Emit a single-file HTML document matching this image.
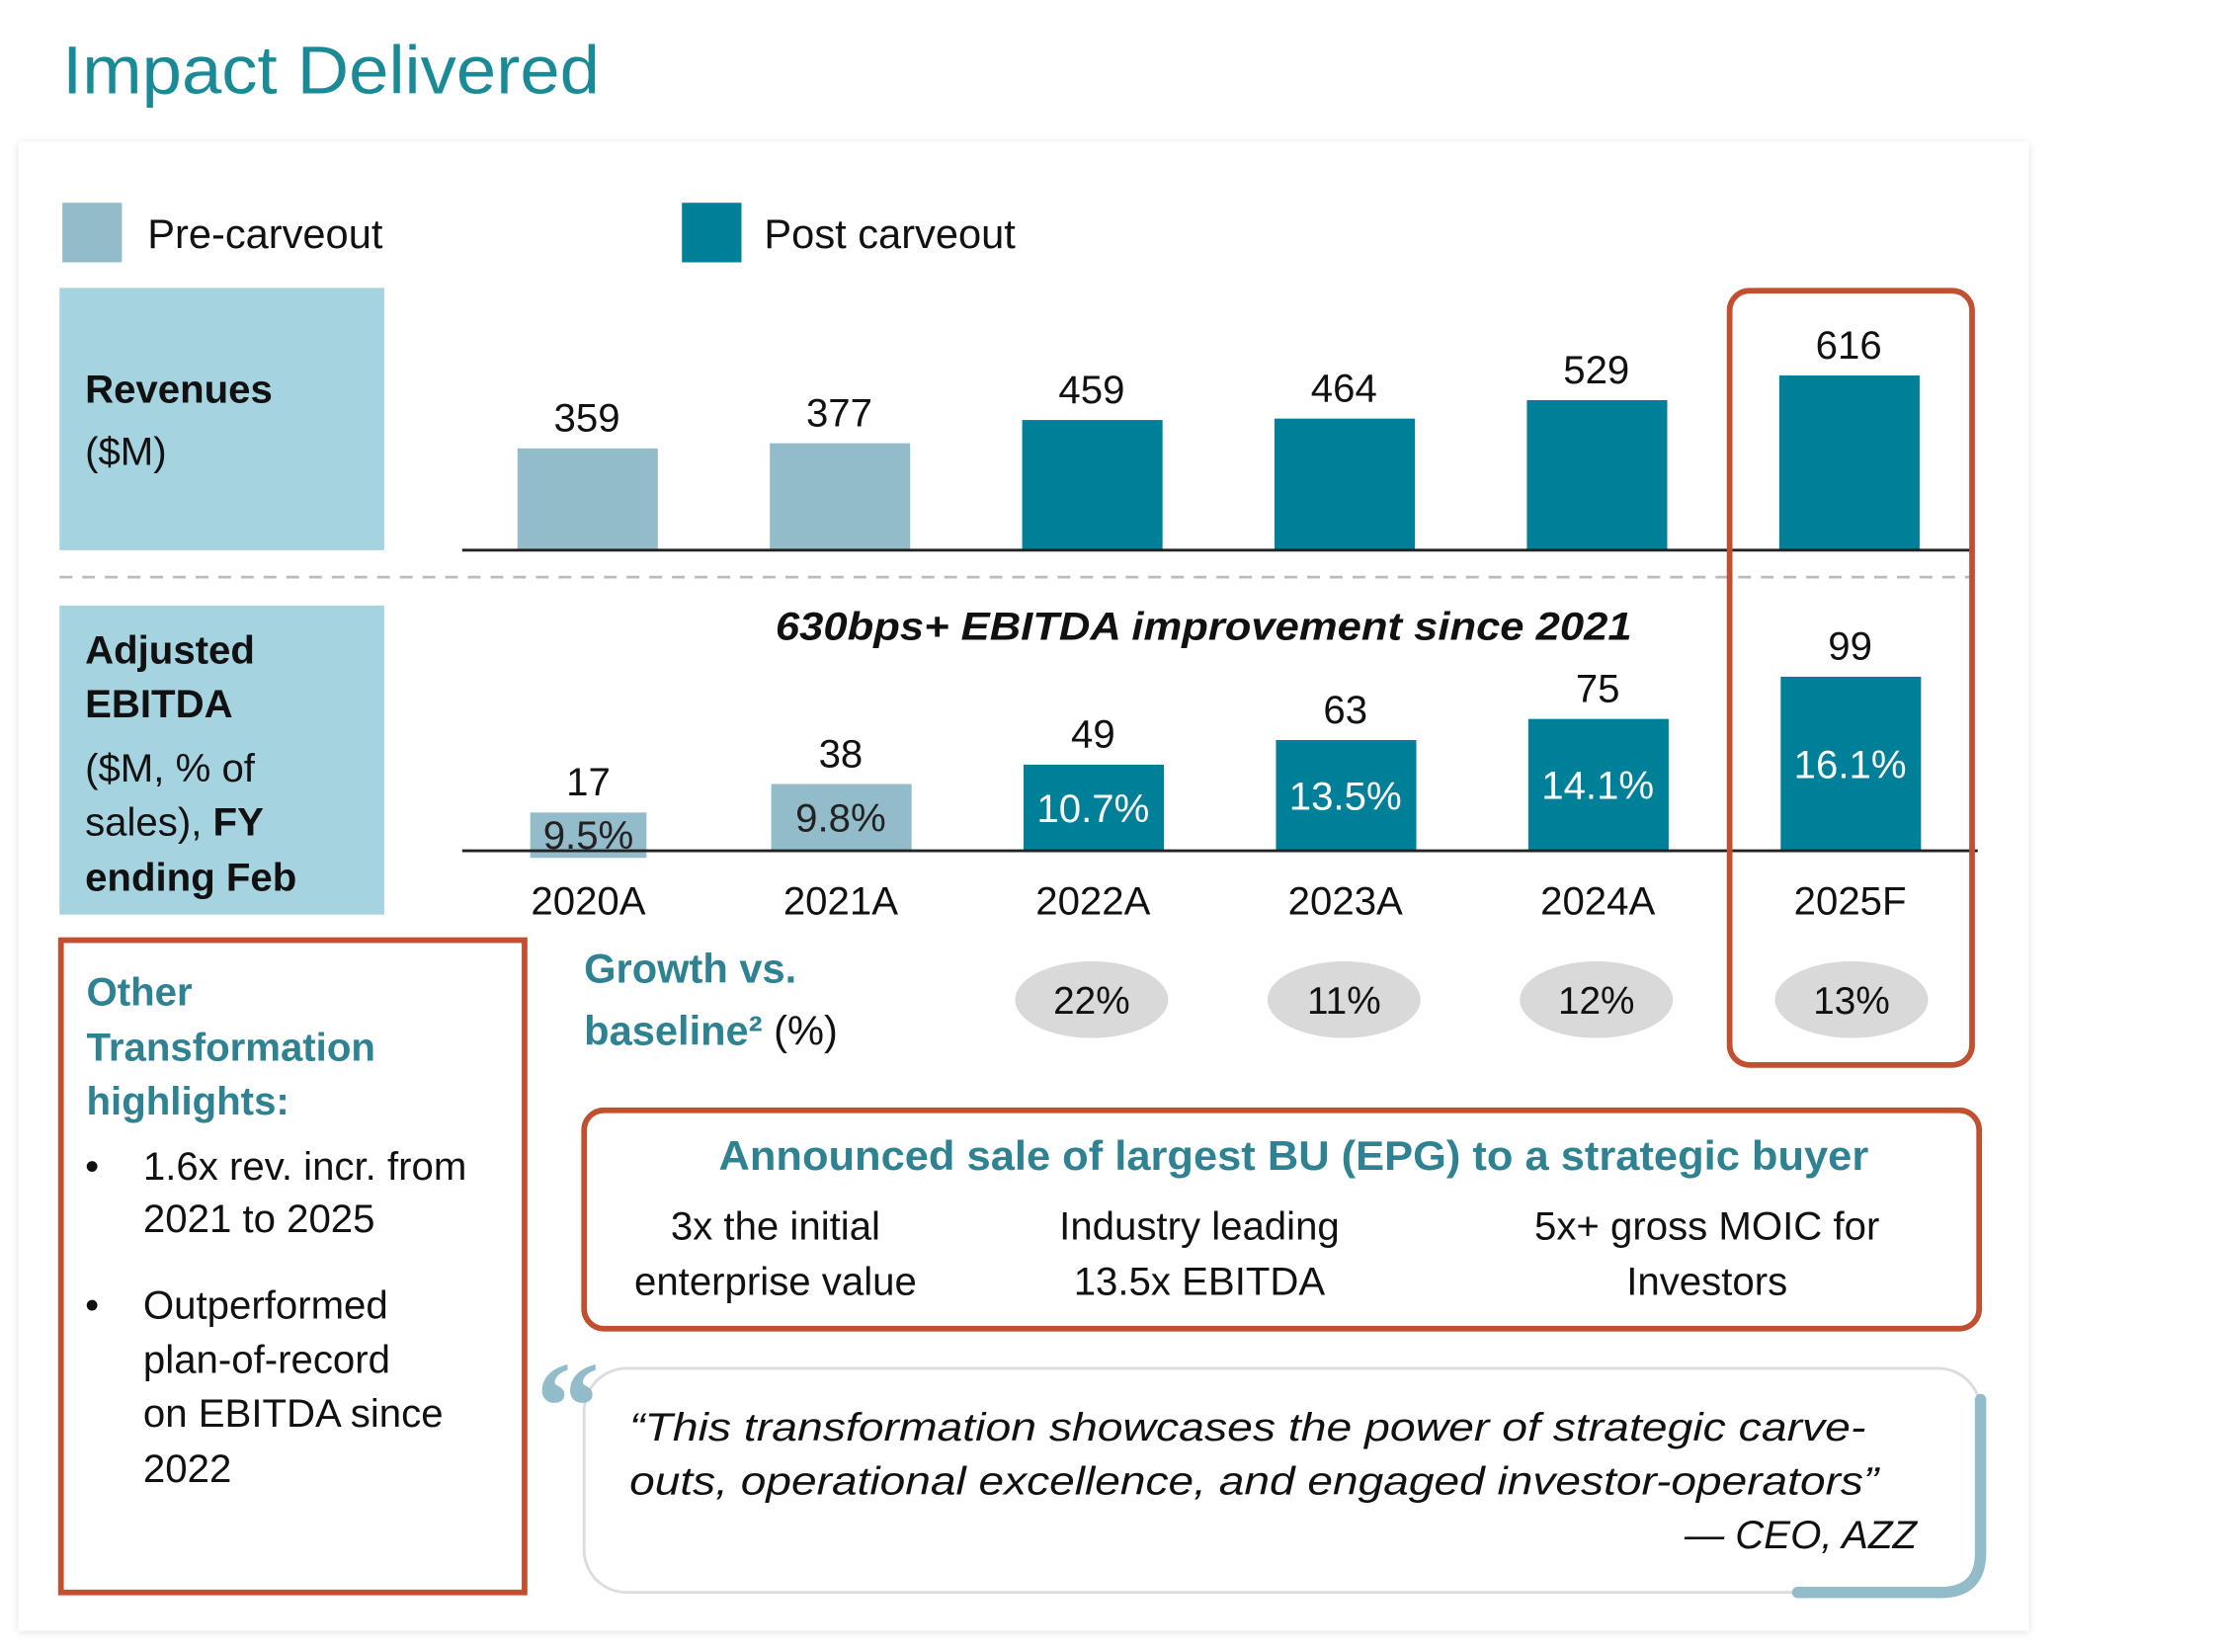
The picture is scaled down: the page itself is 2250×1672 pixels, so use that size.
<!DOCTYPE html>
<html><head><meta charset="utf-8"><style>
html,body{margin:0;padding:0;background:#fff}
svg{display:block;font-family:"Liberation Sans",sans-serif}
</style></head><body>
<svg width="2250" height="1672" viewBox="0 0 1568 1165" preserveAspectRatio="none" xmlns="http://www.w3.org/2000/svg">
<defs><filter id="sh" x="-5%" y="-5%" width="110%" height="110%"><feDropShadow dx="0" dy="1" stdDeviation="3" flood-color="#000" flood-opacity="0.12"/></filter></defs>
<text x="44" y="66" font-size="48" fill="#1a8a96" textLength="379" lengthAdjust="spacingAndGlyphs">Impact Delivered</text>
<rect x="13" y="100" width="1418" height="1050" fill="#fff" filter="url(#sh)"/>
<rect x="44" y="143" width="42" height="42" fill="#93bccb"/>
<text x="104" y="175" font-size="29" fill="#111">Pre-carveout</text>
<rect x="481" y="143" width="42" height="42" fill="#007f99"/>
<text x="539" y="175" font-size="29" fill="#111">Post carveout</text>
<rect x="42" y="203" width="229" height="185" fill="#a6d3e0"/>
<text x="60" y="284" font-size="28" font-weight="bold" fill="#111">Revenues</text>
<text x="60" y="328" font-size="28" fill="#111">($M)</text>
<line x1="42" y1="407" x2="1390" y2="407" stroke="#bbb" stroke-width="2" stroke-dasharray="9,7"/>
<rect x="42" y="427" width="229" height="218" fill="#a6d3e0"/>
<g font-size="28" fill="#111">
<text x="60" y="468" font-weight="bold">Adjusted</text>
<text x="60" y="506" font-weight="bold">EBITDA</text>
<text x="60" y="551">($M, % of</text>
<text x="60" y="589">sales), <tspan font-weight="bold">FY</tspan></text>
<text x="60" y="628" font-weight="bold">ending Feb</text>
</g>
<text x="547" y="451" font-size="28" font-weight="bold" font-style="italic" fill="#111" textLength="604" lengthAdjust="spacingAndGlyphs">630bps+ EBITDA improvement since 2021</text>
<g id="chart"></g>
<rect x="1220" y="205" width="171" height="546" rx="14" fill="none" stroke="#c0502f" stroke-width="4"/>
<text x="412" y="693" font-size="29" font-weight="bold" fill="#2f8291">Growth vs.</text>
<text x="412" y="737" font-size="29" fill="#111"><tspan font-weight="bold" fill="#2f8291">baseline²</tspan> (%)</text>
<rect x="43" y="663" width="327" height="460" fill="none" stroke="#c0502f" stroke-width="4"/>
<g font-size="28">
<text x="61" y="709" font-weight="bold" fill="#2f8291">Other</text>
<text x="61" y="748" font-weight="bold" fill="#2f8291">Transformation</text>
<text x="61" y="786" font-weight="bold" fill="#2f8291">highlights:</text>
<text x="60" y="832" fill="#111">•</text>
<text x="101" y="832" fill="#111">1.6x rev. incr. from</text>
<text x="101" y="869" fill="#111">2021 to 2025</text>
<text x="60" y="930" fill="#111">•</text>
<text x="101" y="930" fill="#111">Outperformed</text>
<text x="101" y="968" fill="#111">plan-of-record</text>
<text x="101" y="1006" fill="#111">on EBITDA since</text>
<text x="101" y="1045" fill="#111">2022</text>
</g>
<rect x="412" y="783" width="984" height="154" rx="14" fill="none" stroke="#c0502f" stroke-width="4"/>
<text x="507" y="825" font-size="29" font-weight="bold" fill="#2f8291" textLength="811" lengthAdjust="spacingAndGlyphs">Announced sale of largest BU (EPG) to a strategic buyer</text>
<g font-size="28" fill="#111" text-anchor="middle">
<text x="547" y="874">3x the initial</text><text x="547" y="913">enterprise value</text>
<text x="846" y="874">Industry leading</text><text x="846" y="913">13.5x EBITDA</text>
<text x="1204" y="874">5x+ gross MOIC for</text><text x="1204" y="913">Investors</text>
</g>
<rect x="412" y="965" width="985" height="158" rx="30" fill="none" stroke="#ddd" stroke-width="2"/>
<path d="M1397 987 V1095 Q1397 1123 1369 1123 H1268" fill="none" stroke="#93bccb" stroke-width="8" stroke-linecap="round"/>
<text x="378" y="1022" font-size="90" font-weight="bold" fill="#93bccb" font-family="Liberation Serif,serif">“</text>
<g font-size="28" font-style="italic" fill="#111">
<text x="444" y="1016" textLength="872" lengthAdjust="spacingAndGlyphs">“This transformation showcases the power of strategic carve-</text>
<text x="444" y="1054" textLength="881" lengthAdjust="spacingAndGlyphs">outs, operational excellence, and engaged investor-operators”</text>
<text x="1352" y="1092" text-anchor="end">— CEO, AZZ</text>
</g>
</svg>
<script>
const years = ["2020A","2021A","2022A","2023A","2024A","2025F"];
const revenues = [359,377,459,464,529,616];
const ebitda = [17,38,49,63,75,99];
const margins = ["9.5%","9.8%","10.7%","13.5%","14.1%","16.1%"];
const postCarveout = [false,false,true,true,true,true];
const growthYears = ["2022A","2023A","2024A","2025F"];
const growth = ["22%","11%","12%","13%"];

const NS="http://www.w3.org/2000/svg";
const g=document.getElementById('chart');
function mk(tag,attrs,text){const e=document.createElementNS(NS,tag);for(const k in attrs)e.setAttribute(k,attrs[k]);if(text!==undefined)e.textContent=text;g.appendChild(e);return e;}
const xc=i=>414+i*178;
const revBase=388, ebBase=600;
const revH=v=>v*0.2;
const ebH=v=>Math.max(v*1.24,27);
years.forEach((y,i)=>{
  const col=postCarveout[i]?"#007f99":"#93bccb";
  const h=revH(revenues[i]);
  const r=mk('rect',{x:xc(i)-49,y:revBase-h,width:99,height:h,fill:col});
  
  
  const t=mk('text',{x:xc(i),y:revBase-h-12,'font-size':28,'text-anchor':'middle',fill:'#111'},revenues[i]);
  
  
  const eh=ebH(ebitda[i]);
  const cx=xc(i)+1;
  const small=ebitda[i]*1.24<27;
  const b=mk('rect',{x:cx-(small?41:49),y:ebBase-eh,width:small?82:99,height:eh+(small?5:0),fill:col});
  
  
  const v=mk('text',{x:cx,y:ebBase-eh-12,'font-size':28,'text-anchor':'middle',fill:'#111'},ebitda[i]);
  
  
  const m=mk('text',{x:cx,y:ebBase-eh/2+(small?12:10),'font-size':28,'text-anchor':'middle',fill:postCarveout[i]?'#fff':'#222'},margins[i]);
  
  
  const yl=mk('text',{x:cx,y:645,'font-size':28,'text-anchor':'middle',fill:'#111'},y);
  
  
});
const l1=mk('line',{x1:326,y1:revBase,x2:1390,y2:revBase,stroke:'#222','stroke-width':2});


const l2=mk('line',{x1:326,y1:ebBase,x2:1395,y2:ebBase,stroke:'#222','stroke-width':2});


growthYears.forEach((y,j)=>{
  const i=years.indexOf(y);
  const cx=xc(i)+(i===5?2:0);
  const e=mk('ellipse',{cx:cx,cy:705,rx:54,ry:27,fill:'#d9d9d9'});
  
  
  const t=mk('text',{x:cx,y:715,'font-size':27,'text-anchor':'middle',fill:'#111'},growth[j]);
  
  
});
</script>
</body></html>
